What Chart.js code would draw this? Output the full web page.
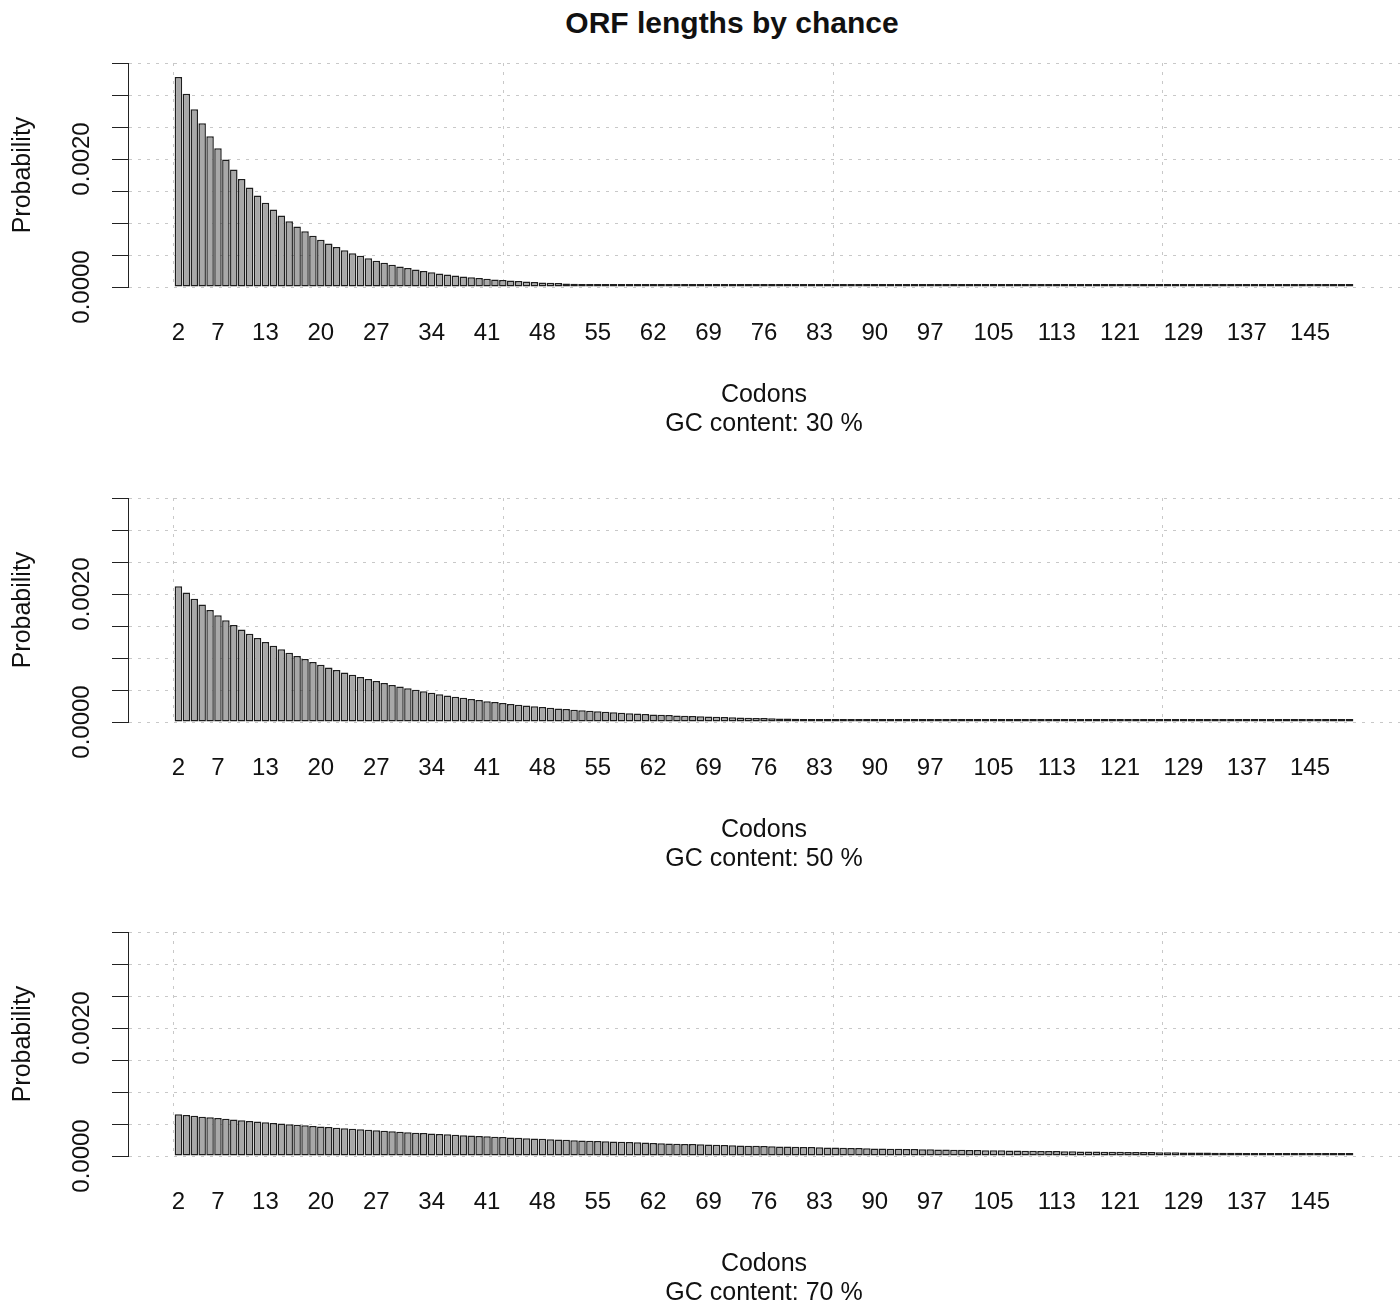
<!DOCTYPE html>
<html>
<head>
<meta charset="utf-8">
<title>ORF lengths by chance</title>
<script src="https://cdn.jsdelivr.net/npm/chart.js@4.4.1/dist/chart.umd.min.js"></script>
<style>
  body { margin: 0; background: #fff; width: 1400px; height: 1309px; position: relative; overflow: hidden; font-family: "Liberation Sans", Arial, Helvetica, sans-serif; }
  #title { position: absolute; left: 532px; width: 400px; top: 6px; line-height: 34px; text-align: center; font-weight: bold; font-size: 30px; color: #111; }
  .panel { position: absolute; left: 0; width: 1400px; height: 435px; }
</style>
</head>
<body>
<div id="title">ORF lengths by chance</div>
<div class="panel" style="top:0px"><canvas id="gc30"></canvas></div>
<div class="panel" style="top:435px"><canvas id="gc50"></canvas></div>
<div class="panel" style="top:869px"><canvas id="gc70"></canvas></div>
<script>
    // ORF length probabilities for codons 2..150
    const codons = Array.from({ length: 149 }, (_, i) => i + 2);
    const xTickLabels = [2, 7, 13, 20, 27, 34, 41, 48, 55, 62, 69, 76, 83, 90, 97, 105, 113, 121, 129, 137, 145];
    const yTicks = [0, 0.0005, 0.001, 0.0015, 0.002, 0.0025, 0.003, 0.0035];
    const yTickLabels = [0, 0.002];
    // dotted grid() lines sit at barplot x = 0, 50, 100, 150 -> in codons
    const gridCodons = [1.4167, 43.083, 84.75, 126.417];

    const gc30 = [
        0.003281, 0.003020, 0.002779, 0.002558, 0.002354, 0.002167, 0.001994, 0.001836, 0.001689, 0.001555,
        0.001431, 0.001317, 0.001212, 0.001116, 0.001027, 0.000945, 0.000870, 0.000801, 0.000737, 0.000678,
        0.000624, 0.000574, 0.000529, 0.000487, 0.000448, 0.000412, 0.000379, 0.000349, 0.000321, 0.000296,
        0.000272, 0.000251, 0.000231, 0.000212, 0.000195, 0.000180, 0.000165, 0.000152, 0.000140, 0.000129,
        0.000119, 0.000109, 0.000101, 0.000093, 0.000085, 0.000078, 0.000072, 0.000066, 0.000061, 0.000056,
        0.000052, 0.000048, 0.000044, 0.000040, 0.000037, 0.000034, 0.000031, 0.000029, 0.000027, 0.000025,
        0.000023, 0.000021, 0.000019, 0.000018, 0.000016, 0.000015, 0.000014, 0.000013, 0.000012, 0.000011,
        0.000010, 0.000009, 0.000008, 0.000008, 0.000007, 0.000006, 0.000006, 0.000005, 0.000005, 0.000005,
        0.000004, 0.000004, 0.000004, 0.000003, 0.000003, 0.000003, 0.000003, 0.000002, 0.000002, 0.000002,
        0.000002, 0.000002, 0.000002, 0.000001, 0.000001, 0.000001, 0.000001, 0.000001, 0.000001, 0.000001,
        0.000001, 0.000001, 0.000001, 0.000001, 0.000001, 0.000001, 0, 0, 0, 0,
        0, 0, 0, 0, 0, 0, 0, 0, 0, 0,
        0, 0, 0, 0, 0, 0, 0, 0, 0, 0,
        0, 0, 0, 0, 0, 0, 0, 0, 0, 0,
        0, 0, 0, 0, 0, 0, 0, 0, 0
    ];
    const gc50 = [
        0.002121, 0.002022, 0.001927, 0.001837, 0.001750, 0.001668, 0.001590, 0.001516, 0.001445, 0.001377,
        0.001312, 0.001251, 0.001192, 0.001137, 0.001083, 0.001032, 0.000984, 0.000938, 0.000894, 0.000852,
        0.000812, 0.000774, 0.000738, 0.000703, 0.000670, 0.000639, 0.000609, 0.000580, 0.000553, 0.000527,
        0.000502, 0.000479, 0.000456, 0.000435, 0.000415, 0.000395, 0.000377, 0.000359, 0.000342, 0.000326,
        0.000311, 0.000296, 0.000283, 0.000269, 0.000257, 0.000245, 0.000233, 0.000222, 0.000212, 0.000202,
        0.000192, 0.000183, 0.000175, 0.000167, 0.000159, 0.000151, 0.000144, 0.000138, 0.000131, 0.000125,
        0.000119, 0.000114, 0.000108, 0.000103, 0.000098, 0.000094, 0.000089, 0.000085, 0.000081, 0.000077,
        0.000074, 0.000070, 0.000067, 0.000064, 0.000061, 0.000058, 0.000055, 0.000053, 0.000050, 0.000048,
        0.000046, 0.000043, 0.000041, 0.000039, 0.000038, 0.000036, 0.000034, 0.000033, 0.000031, 0.000030,
        0.000028, 0.000027, 0.000026, 0.000024, 0.000023, 0.000022, 0.000021, 0.000020, 0.000019, 0.000018,
        0.000017, 0.000017, 0.000016, 0.000015, 0.000014, 0.000014, 0.000013, 0.000012, 0.000012, 0.000011,
        0.000011, 0.000010, 0.000010, 0.000009, 0.000009, 0.000008, 0.000008, 0.000008, 0.000007, 0.000007,
        0.000007, 0.000006, 0.000006, 0.000006, 0.000005, 0.000005, 0.000005, 0.000005, 0.000004, 0.000004,
        0.000004, 0.000004, 0.000004, 0.000003, 0.000003, 0.000003, 0.000003, 0.000003, 0.000003, 0.000003,
        0.000002, 0.000002, 0.000002, 0.000002, 0.000002, 0.000002, 0.000002, 0.000002, 0.000002
    ];
    const gc70 = [
        0.000652, 0.000640, 0.000627, 0.000615, 0.000604, 0.000592, 0.000581, 0.000570, 0.000559, 0.000548,
        0.000538, 0.000527, 0.000517, 0.000507, 0.000498, 0.000488, 0.000479, 0.000470, 0.000461, 0.000452,
        0.000443, 0.000435, 0.000426, 0.000418, 0.000410, 0.000402, 0.000395, 0.000387, 0.000380, 0.000372,
        0.000365, 0.000358, 0.000351, 0.000345, 0.000338, 0.000332, 0.000325, 0.000319, 0.000313, 0.000307,
        0.000301, 0.000295, 0.000290, 0.000284, 0.000279, 0.000273, 0.000268, 0.000263, 0.000258, 0.000253,
        0.000248, 0.000243, 0.000239, 0.000234, 0.000230, 0.000225, 0.000221, 0.000217, 0.000213, 0.000209,
        0.000205, 0.000201, 0.000197, 0.000193, 0.000189, 0.000186, 0.000182, 0.000179, 0.000175, 0.000172,
        0.000169, 0.000166, 0.000162, 0.000159, 0.000156, 0.000153, 0.000150, 0.000148, 0.000145, 0.000142,
        0.000139, 0.000137, 0.000134, 0.000131, 0.000129, 0.000126, 0.000124, 0.000122, 0.000119, 0.000117,
        0.000115, 0.000113, 0.000110, 0.000108, 0.000106, 0.000104, 0.000102, 0.000100, 0.000098, 0.000096,
        0.000095, 0.000093, 0.000091, 0.000089, 0.000088, 0.000086, 0.000084, 0.000083, 0.000081, 0.000080,
        0.000078, 0.000077, 0.000075, 0.000074, 0.000072, 0.000071, 0.000069, 0.000068, 0.000067, 0.000066,
        0.000064, 0.000063, 0.000062, 0.000061, 0.000059, 0.000058, 0.000057, 0.000056, 0.000055, 0.000054,
        0.000053, 0.000052, 0.000051, 0.000050, 0.000049, 0.000048, 0.000047, 0.000046, 0.000045, 0.000044,
        0.000044, 0.000043, 0.000042, 0.000041, 0.000040, 0.000040, 0.000039, 0.000038, 0.000037
    ];

    const fontFamily = '"Liberation Sans", Arial, Helvetica, sans-serif';
    const ink = '#111';
    const gridGrey = '#c8c8c8';

    // R draws the y labels turned 90 degrees, only 0.0000 and 0.0020 fit
    const yLabelPlugin = {
        id: 'yLabels',
        afterDraw(chart) {
            const { ctx, scales: { y } } = chart;
            ctx.save();
            ctx.font = '24px ' + fontFamily;
            ctx.fillStyle = ink;
            ctx.textAlign = 'center';
            ctx.textBaseline = 'middle';
            yTickLabels.forEach(v => {
                ctx.save();
                ctx.translate(82, y.getPixelForValue(v));
                ctx.rotate(-Math.PI / 2);
                ctx.fillText(v.toFixed(4), 0, 0);
                ctx.restore();
            });
            ctx.restore();
        }
    };

    const drawPanel = (id, values, gcText) => {
        const ctx = document.getElementById(id).getContext('2d');
        new Chart(ctx, {
            type: 'bar',
            data: {
                datasets: [{
                    data: codons.map((c, i) => ({ x: c, y: values[i] })),
                    backgroundColor: '#a8a8a8',
                    borderColor: '#1e1e1e',
                    borderWidth: 1.5,
                    borderSkipped: false,
                    barPercentage: 0.95,
                    categoryPercentage: 1,
                    minBarLength: 3
                }]
            },
            options: {
                responsive: true, maintainAspectRatio: false, animation: false,
                layout: { padding: { top: 63, right: 0, bottom: 0, left: 0 } },
                plugins: { legend: { display: false }, tooltip: { enabled: false } },
                scales: {
                    x: {
                        type: 'linear', min: -4.37, max: 156.37, offset: false, bounds: 'data',
                        grid: { display: false, drawTicks: false, offset: false },
                        border: { display: false },
                        afterBuildTicks: s => { s.ticks = xTickLabels.map(v => ({ value: v })); },
                        afterFit: s => { s.height = 148; },
                        ticks: {
                            autoSkip: false, maxRotation: 0, minRotation: 0, padding: 31.6,
                            color: ink, font: { family: fontFamily, size: 24 },
                            callback: v => String(v)
                        },
                        title: {
                            display: true, text: ['Codons', gcText], color: ink,
                            font: { family: fontFamily, size: 25, lineHeight: 1.16 },
                            padding: { top: 0, bottom: -3.5 }
                        }
                    },
                    xg: {
                        type: 'linear', position: 'bottom', min: -4.37, max: 156.37, offset: false, bounds: 'data',
                        afterBuildTicks: s => { s.ticks = gridCodons.map(v => ({ value: v })); },
                        afterFit: s => { s.height = 0; },
                        ticks: { display: false },
                        grid: { color: gridGrey, drawTicks: false, offset: false },
                        border: { display: false, dash: [3, 6] }
                    },
                    y: {
                        min: 0, max: 0.0035,
                        afterBuildTicks: s => { s.ticks = yTicks.map(v => ({ value: v })); },
                        afterFit: s => { s.width = 128; },
                        ticks: { display: false },
                        grid: { color: gridGrey, tickColor: '#222', tickLength: 16 },
                        border: { display: true, color: '#222', width: 1, dash: [3, 6] },
                        title: {
                            display: true, text: 'Probability', color: ink,
                            font: { family: fontFamily, size: 25 },
                            padding: { top: 8, bottom: 0 }
                        }
                    }
                }
            },
            plugins: [yLabelPlugin]
        });
    };

    drawPanel('gc30', gc30, 'GC content: 30 %');
    drawPanel('gc50', gc50, 'GC content: 50 %');
    drawPanel('gc70', gc70, 'GC content: 70 %');
</script>
</body>
</html>
